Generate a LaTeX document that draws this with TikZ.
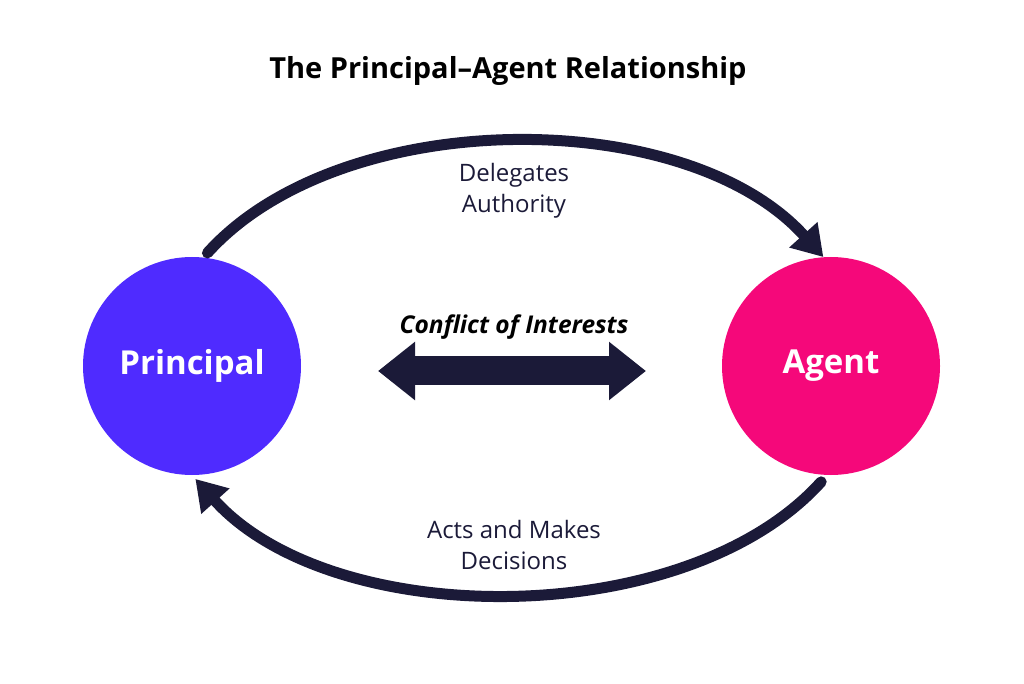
\documentclass[tikz,border=0pt]{standalone}
\usepackage{fontspec}
\setmainfont{Open Sans}
\usepackage{tikz}
\usetikzlibrary{arrows.meta}

\definecolor{princblue}{HTML}{4F2BFF}
\definecolor{agentpink}{HTML}{F5087A}
\definecolor{navy}{HTML}{1B1A38}

\tikzset{
  party/.style={circle, minimum size=218pt, inner sep=0pt, text=white,
    font=\fontsize{33}{38}\selectfont\bfseries},
  flow/.style={line width=11pt, line cap=round, navy,
    -{Triangle[length=30pt,width=36pt]}},
  flowlabel/.style={align=center, text=navy, font=\fontsize{24}{31}\selectfont}
}

\begin{document}
\begin{tikzpicture}[x=1pt,y=1pt]
\useasboundingbox (0,0) rectangle (1024,683);

\node (title) at (508,612) {\fontsize{29}{33}\selectfont\bfseries The Principal–Agent Relationship};

\node[party, fill=princblue] (principal) at (192,317) {Principal};
\node[party, fill=agentpink] (agent) at (831,317) {Agent};

\draw[flow, shorten <=6pt] (principal.84) to[out=48,in=132,looseness=0.85] (agent.94);
\draw[flow, shorten <=9pt, shorten >=5pt] (agent.268) to[out=228,in=-48,looseness=0.85] (principal.270);

\node[flowlabel] (delegates) at (514,492) {Delegates\\Authority};
\node[flowlabel] (acts) at (514,138) {Acts and Makes\\Decisions};

\coordinate (cl) at (378,312);
\coordinate (cr) at (646,312);
\draw[navy, line width=29pt, {Triangle[length=37pt,width=56pt]}-{Triangle[length=37pt,width=56pt]}] (cl) -- (cr);
\node (conflict) at (514,356) {\fontsize{24.5}{28}\selectfont\bfseries\itshape Conflict of Interests};
\end{tikzpicture}
\end{document}
